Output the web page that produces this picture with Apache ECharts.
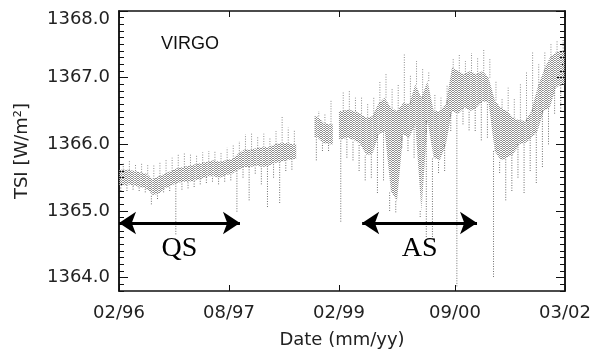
<!DOCTYPE html>
<html>
<head>
<meta charset="utf-8">
<script src="https://cdn.jsdelivr.net/npm/echarts@6/dist/echarts.min.js"></script>
<style>
  html, body { margin: 0; background: #fff; }
  #chart { width: 600px; height: 355px; }
</style>
</head>
<body>
<div id="chart"></div>
<script>
// months since 02/96, sample at mid-month
const monthIdx = [
  0.5, 1.5, 2.5, 3.5, 4.5, 5.5, 6.5, 7.5, 8.5, 9.5,
  10.5, 11.5, 12.5, 13.5, 14.5, 15.5, 16.5, 17.5, 18.5, 19.5,
  20.5, 21.5, 22.5, 23.5, 24.5, 25.5, 26.5, 27.5, 28.5, 29.5,
  30.5, 31.5, 32.5, 33.5, 34.5, 35.5, 36.5, 37.5, 38.5, 39.5,
  40.5, 41.5, 42.5, 43.5, 44.5, 45.5, 46.5, 47.5, 48.5, 49.5,
  50.5, 51.5, 52.5, 53.5, 54.5, 55.5, 56.5, 57.5, 58.5, 59.5,
  60.5, 61.5, 62.5, 63.5, 64.5, 65.5, 66.5, 67.5, 68.5, 69.5,
  70.5, 71.5, 72.5
];
// dense part of the daily TSI scatter (W/m2)
const bandLo = [
  1365.38, 1365.40, 1365.38, 1365.36, 1365.34, 1365.24, 1365.26, 1365.34, 1365.38, 1365.42,
  1365.44, 1365.44, 1365.46, 1365.48, 1365.52, 1365.52, 1365.50, 1365.54, 1365.56, 1365.62,
  1365.66, 1365.66, 1365.68, 1365.66, 1365.68, 1365.72, 1365.74, 1365.76, 1365.78, null,
  null, null, 1366.10, 1366.02, 1366.00, null, 1366.08, 1366.10, 1366.06, 1366.00,
  1365.84, 1365.86, 1366.15, 1366.20, 1365.30, 1365.15, 1366.15, 1366.10, 1366.30, 1365.00,
  1366.35, 1365.80, 1365.76, 1366.00, 1366.50, 1366.46, 1366.55, 1366.50, 1366.55, 1366.65,
  1366.62, 1365.90, 1365.76, 1365.80, 1365.85, 1366.00, 1366.02, 1366.10, 1366.20, 1366.50,
  1366.55, 1366.85, 1366.90
];
const bandHi = [
  1365.62, 1365.62, 1365.60, 1365.58, 1365.56, 1365.48, 1365.52, 1365.56, 1365.60, 1365.64,
  1365.66, 1365.68, 1365.70, 1365.72, 1365.74, 1365.76, 1365.74, 1365.76, 1365.78, 1365.86,
  1365.92, 1365.92, 1365.94, 1365.96, 1365.96, 1366.00, 1366.02, 1366.02, 1366.00, null,
  null, null, 1366.42, 1366.32, 1366.30, null, 1366.50, 1366.52, 1366.50, 1366.46,
  1366.40, 1366.42, 1366.62, 1366.70, 1366.55, 1366.50, 1366.62, 1366.60, 1366.90, 1366.70,
  1366.95, 1366.50, 1366.50, 1366.60, 1367.15, 1367.10, 1367.05, 1367.10, 1367.05, 1367.10,
  1367.00, 1366.66, 1366.55, 1366.50, 1366.40, 1366.36, 1366.35, 1366.50, 1366.85, 1367.10,
  1367.30, 1367.38, 1367.40
];
// extremes of the sparse dotted excursions (dips / peaks)
const extLo = [
  1365.30, 1365.30, 1365.32, 1365.30, 1365.28, 1365.10, 1365.18, 1365.28, 1365.30, 1364.65,
  1365.32, 1365.34, 1365.36, 1365.40, 1365.42, 1365.44, 1365.40, 1365.44, 1365.46, 1364.99,
  1365.50, 1365.16, 1365.56, 1365.40, 1365.06, 1365.50, 1365.12, 1365.60, 1365.62, null,
  null, null, 1365.76, 1365.90, 1365.90, null, 1364.84, 1365.80, 1365.76, 1365.60,
  1365.46, 1365.50, 1365.27, 1365.46, 1365.00, 1364.98, 1365.95, 1365.90, 1365.80, 1364.91,
  1364.61, 1364.61, 1365.57, 1365.60, 1366.20, 1363.87, 1366.30, 1366.21, 1366.20, 1366.06,
  1366.10, 1364.01, 1365.57, 1365.16, 1365.30, 1365.50, 1365.27, 1365.60, 1365.42, 1365.66,
  1366.00, 1366.46, 1366.50
];
const extHi = [
  1365.72, 1365.75, 1365.70, 1365.72, 1365.70, 1365.70, 1365.74, 1365.78, 1365.80, 1365.86,
  1365.88, 1365.86, 1365.84, 1365.88, 1365.90, 1365.90, 1365.88, 1365.95, 1365.99, 1366.05,
  1366.15, 1366.18, 1366.12, 1366.16, 1366.10, 1366.20, 1366.43, 1366.25, 1366.22, null,
  null, null, 1366.50, 1366.45, 1366.66, null, 1366.78, 1366.80, 1366.70, 1366.72,
  1366.62, 1366.70, 1366.95, 1367.06, 1366.85, 1366.90, 1367.37, 1367.05, 1367.25, 1367.15,
  1367.10, 1366.75, 1366.70, 1366.90, 1367.30, 1367.35, 1367.25, 1367.37, 1367.30, 1367.42,
  1367.30, 1366.95, 1366.70, 1366.85, 1366.70, 1366.90, 1367.10, 1367.40, 1367.20, 1367.40,
  1367.51, 1367.55, 1367.58
];

const xTicks = [0, 18, 36, 55, 73];
const xTickLabels = ['02/96', '08/97', '02/99', '09/00', '03/02'];
const yTicks = [1364, 1365, 1366, 1367, 1368];
const yTickLabels = ['1364.0', '1365.0', '1366.0', '1367.0', '1368.0'];

// quiet sun / active sun periods (months) and arrow level
const qsSpan = [0, 19.8];
const asSpan = [39.8, 58.6];
const arrowLevel = 1364.82;

const rows = [];
monthIdx.forEach((m, i) => {
  if (bandLo[i] == null) return;
  rows.push([m, bandLo[i], bandHi[i], extLo[i], extHi[i]]);
});

// stipple texture for the dense band
const stipple = document.createElement('canvas');
stipple.width = 3;
stipple.height = 2;
(function () {
  const g = stipple.getContext('2d');
  g.fillStyle = '#8e8e8e';
  [[0, 0], [2, 0], [1, 1]].forEach(p => g.fillRect(p[0], p[1], 1, 1));
})();

function renderItem(params, api) {
  const i = params.dataIndex;
  const t = api.value(0);
  const w = api.size([1, 0])[0];
  const bLo = api.coord([t, api.value(1)]);
  const bHi = api.coord([t, api.value(2)]);
  const eLo = api.coord([t, api.value(3)]);
  const eHi = api.coord([t, api.value(4)]);
  const x = bLo[0];
  const prev = rows[i - 1], next = rows[i + 1];
  const children = [];
  const fill = { image: stipple, repeat: 'repeat' };

  // band: joined to the next sample if contiguous, otherwise a half-month cap
  if (next && next[0] - t < 1.01) {
    const nLo = api.coord([next[0], next[1]]);
    const nHi = api.coord([next[0], next[2]]);
    children.push({
      type: 'polygon',
      shape: { points: [[x, bLo[1]], [x, bHi[1]], [nHi[0], nHi[1]], [nLo[0], nLo[1]]] },
      style: { fill: fill }
    });
  } else {
    children.push({
      type: 'rect',
      shape: { x: x, y: bHi[1], width: w * 0.5, height: bLo[1] - bHi[1] },
      style: { fill: fill }
    });
  }
  if (!prev || t - prev[0] > 1.01) {
    children.push({
      type: 'rect',
      shape: { x: x - w * 0.5, y: bHi[1], width: w * 0.5, height: bLo[1] - bHi[1] },
      style: { fill: fill }
    });
  }
  // sparse excursions
  children.push({
    type: 'line',
    shape: { x1: x - 0.2 * w, y1: eLo[1], x2: x - 0.2 * w, y2: bLo[1] },
    style: { stroke: '#707070', lineWidth: 1, lineDash: [1, 1.5] }
  });
  children.push({
    type: 'line',
    shape: { x1: x + 0.2 * w, y1: bHi[1], x2: x + 0.2 * w, y2: eHi[1] },
    style: { stroke: '#8c8c8c', lineWidth: 1, lineDash: [1, 1.5] }
  });
  return { type: 'group', children: children };
}

const ink = '#111';
const labelFont = { fontFamily: 'DejaVu Sans', fontSize: 18, color: '#222' };
const frame = { show: true, lineStyle: { color: ink, width: 1.5 } };

const chart = echarts.init(document.getElementById('chart'), null, { renderer: 'canvas' });

chart.setOption({
  animation: false,
  backgroundColor: '#fff',
  title: {
    text: 'VIRGO',
    left: 161,
    top: 35,
    padding: 0,
    textStyle: { fontFamily: 'Liberation Sans', fontSize: 18, fontWeight: 'normal', color: ink }
  },
  grid: { left: 119, right: 35, top: 11, bottom: 64 },
  xAxis: [
    {
      type: 'value', min: 0, max: 73, position: 'bottom',
      axisLine: frame, splitLine: { show: false },
      axisTick: { inside: true, length: 6, customValues: xTicks, lineStyle: { color: ink } },
      axisLabel: {
        customValues: xTicks, margin: 13, interval: 0, hideOverlap: false, ...labelFont,
        formatter: v => {
          const i = xTicks.findIndex(t => Math.abs(t - v) < 0.01);
          return i < 0 ? '' : xTickLabels[i];
        }
      },
      name: 'Date (mm/yy)', nameLocation: 'middle', nameGap: 40,
      nameTextStyle: { ...labelFont }
    },
    {
      type: 'value', min: 0, max: 73, position: 'top',
      axisLine: frame, splitLine: { show: false },
      axisTick: { inside: true, length: 6, customValues: xTicks, lineStyle: { color: ink } },
      axisLabel: { show: false }
    }
  ],
  yAxis: [
    {
      type: 'value', min: 1363.8, max: 1368, position: 'left',
      axisLine: frame, splitLine: { show: false },
      axisTick: { inside: true, length: 9, customValues: yTicks, lineStyle: { color: ink } },
      axisLabel: {
        customValues: yTicks, margin: 9, ...labelFont,
        formatter: v => {
          const s = yTickLabels[yTicks.indexOf(v)];
          return v === 1368 ? '{top|' + s + '}' : s;
        },
        rich: { top: { ...labelFont, padding: [16, 0, 0, 0] } }
      },
      name: 'TSI [W/m²]', nameLocation: 'middle', nameGap: 88,
      nameTextStyle: { ...labelFont }
    },
    {
      type: 'value', min: 1363.8, max: 1368, interval: 0.1, position: 'left',
      axisLine: frame, splitLine: { show: false },
      axisTick: { inside: true, length: 5, lineStyle: { color: ink } },
      axisLabel: { show: false }
    },
    {
      type: 'value', min: 1363.8, max: 1368, position: 'right',
      axisLine: frame, splitLine: { show: false },
      axisTick: { inside: true, length: 9, customValues: yTicks, lineStyle: { color: ink } },
      axisLabel: { show: false }
    },
    {
      type: 'value', min: 1363.8, max: 1368, interval: 0.1, position: 'right',
      axisLine: frame, splitLine: { show: false },
      axisTick: { inside: true, length: 5, lineStyle: { color: ink } },
      axisLabel: { show: false }
    }
  ],
  series: [
    {
      type: 'custom',
      xAxisIndex: 0,
      yAxisIndex: 0,
      clip: true,
      silent: true,
      renderItem: renderItem,
      encode: { x: 0, y: [1, 2, 3, 4] },
      data: rows
    },
    {
      type: 'line',
      xAxisIndex: 0,
      yAxisIndex: 0,
      data: [],
      markLine: {
        silent: true,
        symbol: ['arrow', 'arrow'],
        symbolSize: 17,
        lineStyle: { color: '#000', width: 3, type: 'solid' },
        label: {
          show: true,
          position: 'insideMiddleBottom',
          distance: 12,
          formatter: '{b}',
          fontFamily: 'Liberation Serif',
          fontSize: 28,
          color: '#000'
        },
        data: [
          [{ name: 'QS', coord: [qsSpan[0], arrowLevel] }, { coord: [qsSpan[1], arrowLevel] }],
          [{ name: 'AS', coord: [asSpan[0], arrowLevel] }, { coord: [asSpan[1], arrowLevel] }]
        ]
      }
    }
  ]
});
</script>
</body>
</html>
